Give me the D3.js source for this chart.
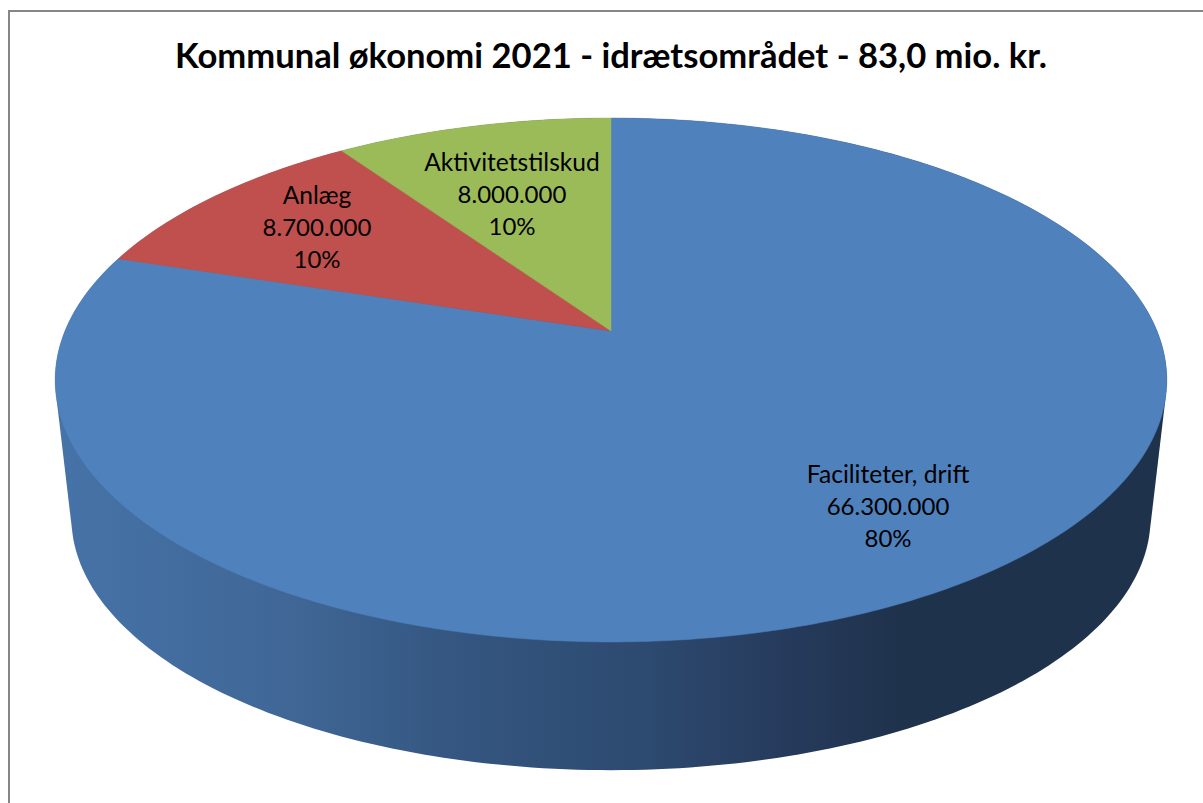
<!DOCTYPE html>
<html>
<head>
  <script src="https://d3js.org/d3.v7.min.js"></script>
  <style>
    html, body { margin: 0; background: #fff; }
    svg { display: block; }
    text { font-family: "Lato", sans-serif; fill: #000; }
  </style>
</head>
<body>
  <script>
    // data
    const titleText = "Kommunal økonomi 2021 - idrætsområdet - 83,0 mio. kr.";
    const categories = ["Faciliteter, drift", "Anlæg", "Aktivitetstilskud"];
    const amounts = [66300000, 8700000, 8000000];
    const amountLabels = ["66.300.000", "8.700.000", "8.000.000"];
    const percentLabels = ["80%", "10%", "10%"];
    const sliceColors = ["#4f81bd", "#c0504d", "#9bbb59"];

    const width = 1203;
    const height = 803;

    const svg = d3.select("body")
      .append("svg")
      .attr("width", width)
      .attr("height", height);

    // perspective of the disc: k = half width factor, a = depth factor, y0 = pie centre on screen
    const cx = 611;
    const tilt = -0.187;
    const topRim = { k: 546, a: 252.8, y0: 331 };
    const baseRim = { k: 530, a: 243.2, y0: 471 };

    function project(angle, r, rim) {
      const u = Math.sin(angle) * r;
      const v = -Math.cos(angle) * r;
      const d = 1 + tilt * v;
      return [cx + rim.k * u / d, rim.y0 + rim.a * v / d];
    }

    const line = d3.line();
    const sampleAngles = d3.range(0, 2 * Math.PI, Math.PI / 180);

    // side wall with dark shading to the right
    const defs = svg.append("defs");
    const sideGradient = defs.append("linearGradient")
      .attr("id", "side")
      .attr("gradientUnits", "userSpaceOnUse")
      .attr("x1", 55).attr("x2", 1167)
      .attr("y1", 0).attr("y2", 0);
    const shadeStops = [
      [0, "#4673a8"], [0.22, "#3f6695"], [0.36, "#345680"],
      [0.53, "#2d4a70"], [0.67, "#25395a"], [0.76, "#1f324c"], [1, "#1f324c"]
    ];
    sideGradient.selectAll("stop")
      .data(shadeStops)
      .join("stop")
      .attr("offset", d => d[0])
      .attr("stop-color", d => d[1]);

    const hull = d3.polygonHull(
      sampleAngles.map(a => project(a, 1, topRim))
        .concat(sampleAngles.map(a => project(a, 1, baseRim)))
    );
    svg.append("path")
      .attr("d", line(hull) + "Z")
      .attr("fill", "url(#side)");

    // top face
    const pie = d3.pie().sort(null)(amounts);
    function slicePath(d) {
      const n = Math.max(2, Math.ceil((d.endAngle - d.startAngle) * 90));
      const steps = d3.range(n + 1).map(i => d.startAngle + (d.endAngle - d.startAngle) * i / n);
      return line([project(0, 0, topRim)].concat(steps.map(a => project(a, 1, topRim)))) + "Z";
    }
    svg.selectAll("path.slice")
      .data(pie)
      .join("path")
      .attr("class", "slice")
      .attr("d", slicePath)
      .attr("fill", (d, i) => sliceColors[i])
      .attr("stroke", (d, i) => sliceColors[i])
      .attr("stroke-width", 0.5);

    // labels
    const labelCenters = [[888, 483], [317, 204], [512, 171]];
    const lineStep = 32.2;
    const labels = svg.selectAll("g.label")
      .data(categories)
      .join("g")
      .attr("class", "label")
      .attr("transform", (d, i) => `translate(${labelCenters[i][0]},${labelCenters[i][1]})`)
      .attr("text-anchor", "middle")
      .attr("font-size", "24px");
    labels.append("text").attr("font-size", "24.6px").text(d => d);
    labels.append("text").attr("y", lineStep).text((d, i) => amountLabels[i]);
    labels.append("text").attr("y", 2 * lineStep).text((d, i) => percentLabels[i]);

    svg.append("text")
      .attr("x", 611)
      .attr("y", 67.5)
      .attr("text-anchor", "middle")
      .attr("font-weight", "bold")
      .attr("font-size", "34.6px")
      .text(titleText);

    // chart frame
    svg.append("path")
      .attr("d", "M9,803V11H1203")
      .attr("fill", "none")
      .attr("stroke", "#868686")
      .attr("stroke-width", 2);
  </script>
</body>
</html>
